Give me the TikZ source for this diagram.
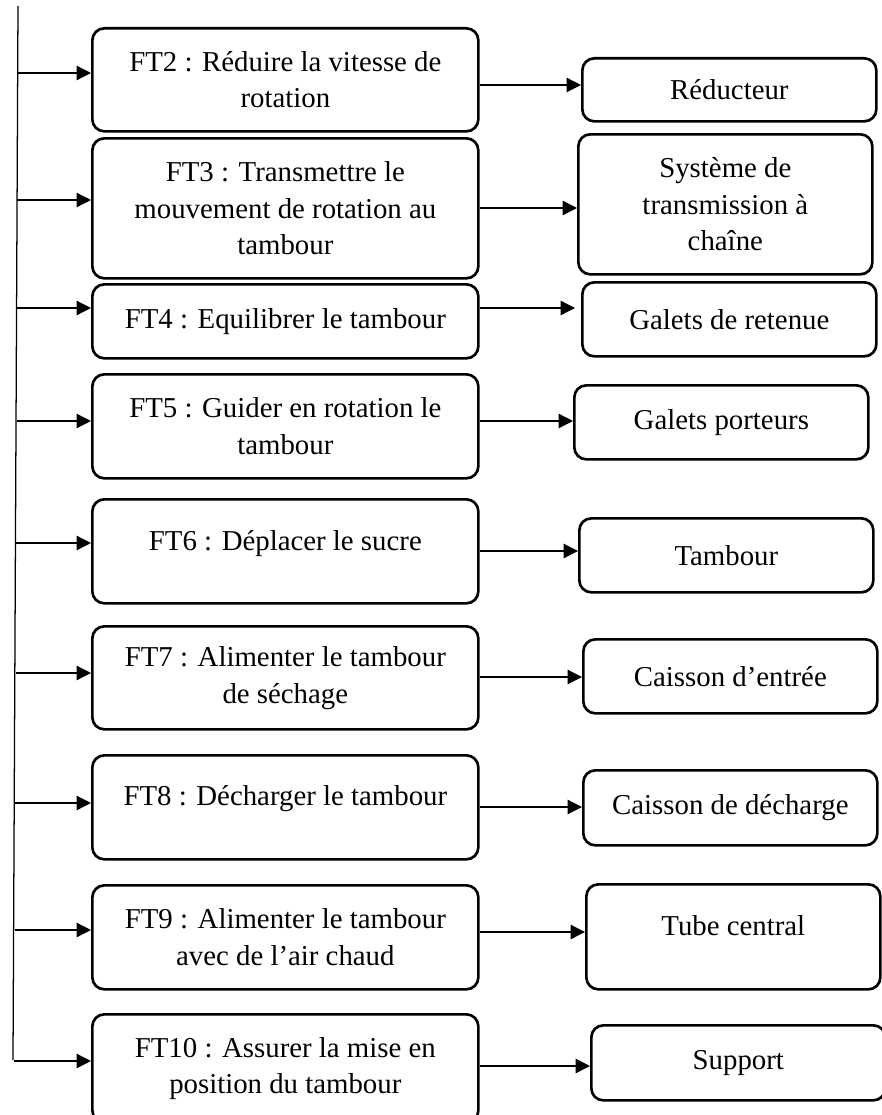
\documentclass[tikz,border=0pt]{standalone}
\usepackage{fontspec}
\setmainfont{Liberation Serif}
\usetikzlibrary{arrows.meta,positioning}
\tikzset{
  fat/.style={font=\fontsize{20.5}{26}\selectfont, line width=.9pt,
    >={Triangle[length=3.6mm,width=3.6mm]}},
  fbox/.style={draw, rounded corners=3mm, line width=1.9pt, align=center,
    anchor=north west, inner sep=1mm},
  ftbox/.style={fbox, minimum width=96.5mm},
  solbox/.style={fbox, minimum width=73.5mm},
  lifted/.style={text depth=#1},
  flow/.style={->, line width=.9pt},
  trunk/.style={line width=.9pt},
}

\begin{document}
\begin{tikzpicture}[fat,x=.25mm,y=.25mm]
  \path[use as bounding box] (0,0) rectangle (881,-1115);

  % ---------------- technical functions ----------------
  \node[ftbox,minimum height=25.75mm] (ft2) at (91,-27)
    {FT2 : Réduire la vitesse de\\rotation};
  \node[ftbox,minimum height=35mm] (ft3) at (91,-137)
    {FT3 : Transmettre le\\mouvement de rotation au\\tambour};
  \node[ftbox,minimum height=18.5mm] (ft4) at (91,-283)
    {FT4 : Equilibrer le tambour};
  \node[ftbox,minimum height=26mm] (ft5) at (91,-373)
    {FT5 : Guider en rotation le\\tambour};
  \node[ftbox,minimum height=26mm,lifted=5.6mm] (ft6) at (91,-498)
    {FT6 : Déplacer le sucre};
  \node[ftbox,minimum height=25.75mm] (ft7) at (91,-625)
    {FT7 : Alimenter le tambour\\de séchage};
  \node[ftbox,minimum height=26mm,lifted=6mm] (ft8) at (91,-754)
    {FT8 : Décharger le tambour};
  \node[ftbox,minimum height=26mm] (ft9) at (91,-884)
    {FT9 : Alimenter le tambour\\avec de l’air chaud};
  % the last box runs off the bottom edge
  \node[ftbox,minimum height=27mm] (ft10) at (91,-1013)
    {FT10 : Assurer la mise en\\position du tambour};

  % ---------------- chosen solutions ----------------
  \node[solbox,minimum height=15.75mm] (reducteur) at (581,-57) {Réducteur};
  \node[solbox,minimum height=35mm] (transmission) at (577,-133)
    {Système de\\transmission à\\chaîne};
  \node[solbox,minimum height=18.5mm] (retenue) at (581,-281) {Galets de retenue};
  \node[solbox,minimum height=18.5mm] (porteurs) at (573,-384) {Galets porteurs};
  \node[solbox,minimum height=18.5mm] (tambour) at (578,-517) {Tambour};
  \node[solbox,minimum height=18.5mm] (entree) at (582,-638) {Caisson d’entrée};
  \node[solbox,minimum height=18.75mm] (decharge) at (582,-769)
    {Caisson de décharge};
  \node[solbox,minimum height=26.25mm,lifted=5.5mm] (tube) at (585,-883)
    {Tube central};
  \node[solbox,minimum height=18.75mm] (support) at (590,-1024) {Support};

  % Trunk feeding every function from the left.
  \coordinate (trunktop) at (18,-6);
  \coordinate (trunkbot) at (13,-1060);
  \draw[trunk] (trunktop) -- (trunkbot);
  \draw[flow] (18,-73) -- (ft2.west |- 0,-73);
  \draw[flow] (17,-200) -- (ft3.west |- 0,-200);
  \draw[flow] (17,-308) -- (ft4.west |- 0,-308);
  \draw[flow] (17,-421) -- (ft5.west |- 0,-421);
  \draw[flow] (16,-543) -- (ft6.west |- 0,-543);
  \draw[flow] (16,-673) -- (ft7.west |- 0,-673);
  \draw[flow] (15,-803) -- (ft8.west |- 0,-803);
  \draw[flow] (15,-930) -- (ft9.west |- 0,-930);
  \draw[flow] (14,-1061) -- (ft10.west |- 0,-1061);

  % Function -> solution.
  \draw[flow] (ft2.east |- 0,-85) -- (reducteur.west |- 0,-85);
  \draw[flow] (ft3.east |- 0,-208) -- (transmission.west |- 0,-208);
  \draw[flow,shorten >=1.5mm] (ft4.east |- 0,-308) -- (retenue.west |- 0,-308);
  \draw[flow] (ft5.east |- 0,-421) -- (porteurs.west |- 0,-421);
  \draw[flow] (ft6.east |- 0,-551) -- (tambour.west |- 0,-551);
  \draw[flow] (ft7.east |- 0,-677) -- (entree.west |- 0,-677);
  \draw[flow] (ft8.east |- 0,-807) -- (decharge.west |- 0,-807);
  \draw[flow] (ft9.east |- 0,-932) -- (tube.west |- 0,-932);
  \draw[flow] (ft10.east |- 0,-1066) -- (support.west |- 0,-1066);
\end{tikzpicture}
\end{document}
